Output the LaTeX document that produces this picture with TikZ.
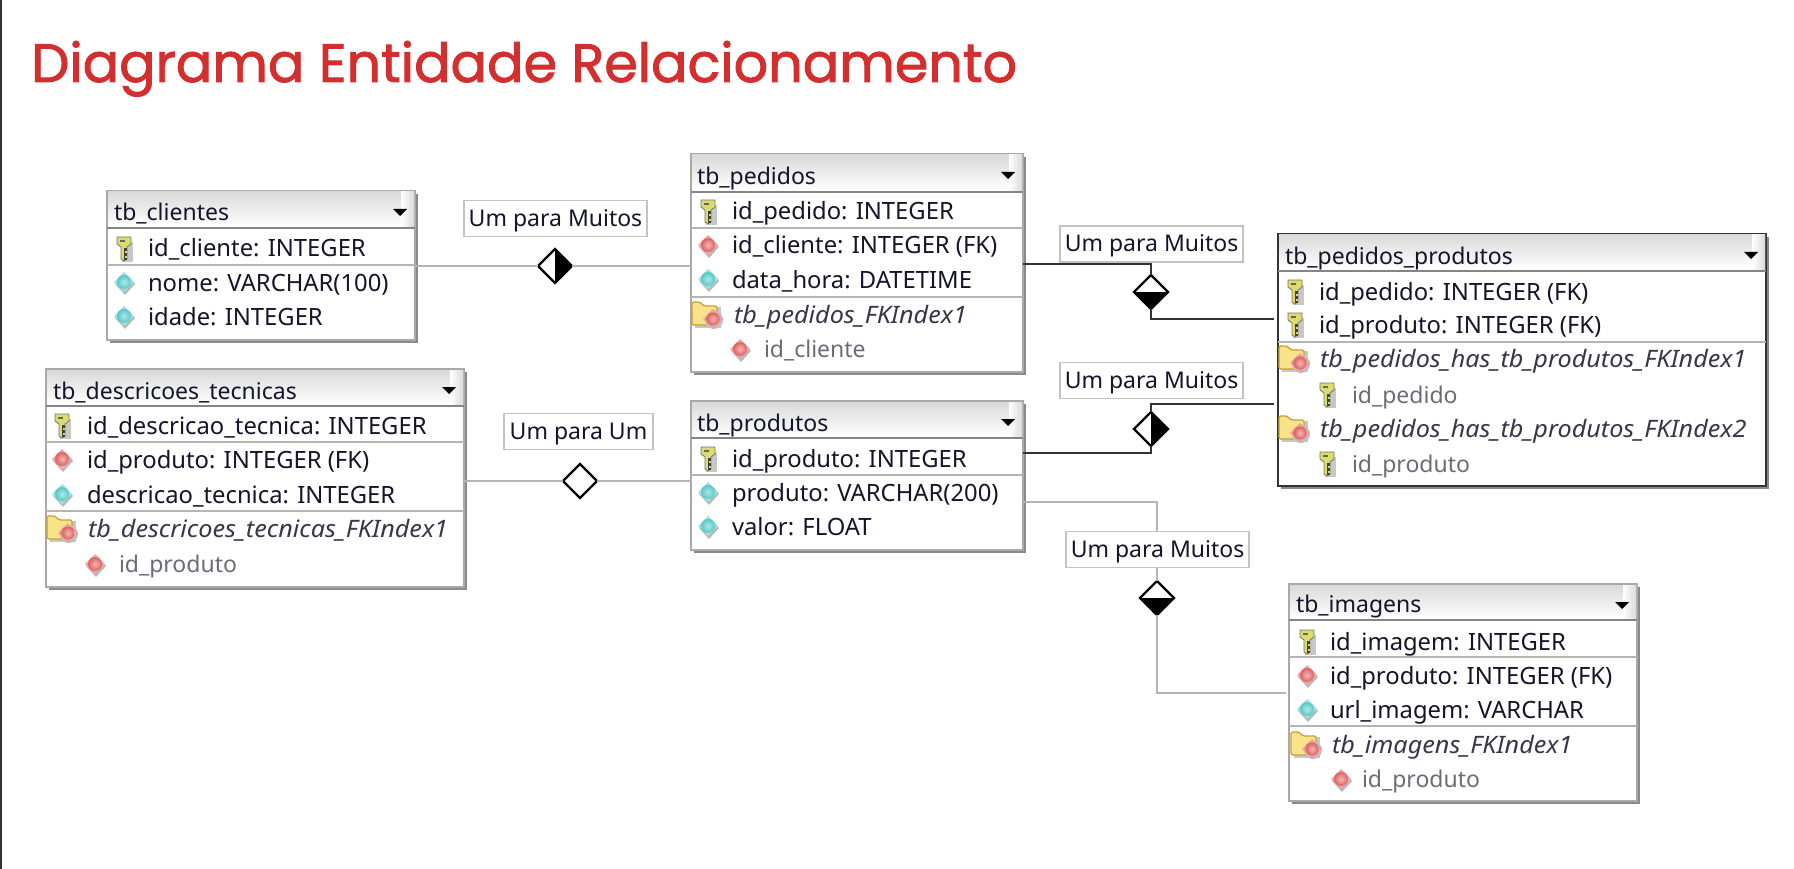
\documentclass[tikz,border=0pt]{standalone}
\usepackage{fontspec}
\usetikzlibrary{shapes.geometric,calc}
\setmainfont{Noto Sans}
\newfontfamily\titlefont[FakeBold=1.7]{Poppins}
\newfontfamily\idxfont[FakeStretch=1.05]{Noto Sans}
\definecolor{ink}{HTML}{14142A}
\definecolor{idxgray}{HTML}{6C6C78}
\definecolor{titlered}{HTML}{D32F2F}
\definecolor{bordergray}{HTML}{A9A9A9}
\definecolor{shadowgray}{HTML}{8A8A8A}
\definecolor{linegray}{HTML}{B4B4B4}
\definecolor{darkframe}{HTML}{333333}
\definecolor{hdr}{HTML}{DADADA}
\tikzset{
  x=1pt,y=-1pt,
  tblbox/.style={rectangle,draw=bordergray,line width=1.5,fill=white,anchor=north west,inner sep=0,outer sep=0},
  tbldark/.style={tblbox,draw=darkframe},
  ttl/.style={anchor=base west,inner sep=0,outer sep=0,text=ink,font=\fontsize{23}{27}\selectfont},
  fld/.style={ttl,font=\fontsize{23.8}{28}\selectfont},
  idx/.style={ttl,font=\idxfont\fontsize{24}{28}\selectfont\itshape,text=ink!85},
  sub/.style={ttl,text=idxgray},
  rel/.style={rectangle,draw=linegray!80,line width=1.3,fill=white,inner sep=0,outer sep=0,text=ink,text height=20,text depth=5,font=\fontsize{23}{27}\selectfont},
  conn/.style={draw=linegray,line width=1.5},
  connb/.style={draw=darkframe,line width=1.6},
  rowline/.style={draw=linegray,line width=1.4},
  dia/.style={diamond,draw=black,line width=2.4,fill=white,inner sep=0,outer sep=0,minimum width=34,minimum height=34,aspect=1},
  diaR/.style={dia,path picture={\fill[black] (path picture bounding box.north) rectangle (path picture bounding box.south east);}},
  diaB/.style={dia,path picture={\fill[black] (path picture bounding box.west) rectangle (path picture bounding box.south east);}},
}
% table frame: name, x, y, w, h, header bottom, style
\newcommand{\tblframe}[7]{%
  \fill[shadowgray] (#2+3,#3+3) rectangle (#2+#4+3,#3+#5+3);
  \node[#7,minimum width=#4,minimum height=#5] (#1) at (#2,#3) {};
  \shade[top color=hdr,bottom color=white] (#2+1,#3+1) rectangle (#2+#4-1,#6-1);
  \shade[left color=hdr!0,right color=hdr] (#2+#4-14,#3+1) rectangle (#2+#4-1,#6-1);
  \draw[#7,draw=darkframe!60] (#2,#6) -- (#2+#4,#6);
  \fill[black] (#2+#4-22,#3+18) -- (#2+#4-8,#3+18) -- (#2+#4-15,#3+25) -- cycle;
}
\definecolor{ballcyan}{HTML}{55C8C8}
\definecolor{ballred}{HTML}{E06060}
\definecolor{keyyellow}{HTML}{DCDC6C}
\definecolor{folderyellow}{HTML}{F8E28A}
\definecolor{folderedge}{HTML}{C8A030}
\newcommand{\ballicon}[3]{% x,y,color
  \fill[black!28] (#1+1,#2-9) -- (#1+11,#2+2) -- (#1+1,#2+13) -- (#1-9,#2+2) -- cycle;
  \fill[#3!55!white] (#1,#2-10) -- (#1+10,#2) -- (#1,#2+10) -- (#1-10,#2) -- cycle;
  \shade[inner color=#3!45!white,outer color=#3] (#1,#2) circle (7);
}
\newcommand{\keyicon}[2]{% x,y
  \fill[black!22] (#1-2,#2-6) rectangle (#1+9,#2+14);
  \fill[keyyellow,draw=black!55,line width=0.8] (#1-7,#2-11) -- (#1+7,#2-11) -- (#1+7,#2-4) -- (#1+3,#2-1) -- (#1+3,#2+11) -- (#1,#2+13) -- (#1-3,#2+11) -- (#1-3,#2-1) -- (#1-7,#2-4) -- cycle;
  \fill[black!75] (#1,#2) rectangle (#1+3,#2+12);
  \fill[keyyellow] (#1+1,#2+3) rectangle (#1+3,#2+5);
  \fill[keyyellow] (#1+1,#2+8) rectangle (#1+3,#2+10);
  \fill[black!60] (#1-4,#2-8) rectangle (#1+1,#2-6);
}
\newcommand{\foldericon}[2]{% x,y
  \fill[black!22] (#1-11,#2-8) rectangle (#1+15,#2+13);
  \fill[folderyellow,draw=folderedge,line width=1.3,rounded corners=1.5] (#1-14,#2-13) -- (#1-6,#2-13) -- (#1-2,#2-9) -- (#1+11,#2-9) -- (#1+11,#2+10) -- (#1-14,#2+10) -- cycle;
  \fill[black!25] (#1+8,#2+5) circle (9);
  \fill[ballred!60!white] (#1+7,#2-6) -- (#1+17,#2+4) -- (#1+7,#2+14) -- (#1-3,#2+4) -- cycle;
  \shade[inner color=ballred!45!white,outer color=ballred] (#1+7,#2+4) circle (6.5);
}
\begin{document}
\begin{tikzpicture}
\useasboundingbox (0,0) rectangle (1794,869);
\fill[white] (0,0) rectangle (1794,869);
\fill[darkframe] (0,0) rectangle (2,869);
\node[anchor=base west,inner sep=0,text=titlered,font=\titlefont\fontsize{54}{60}\selectfont] (heading) at (31,82) {Diagrama Entidade Relacionamento};

% tables
\tblframe{clientes}{107}{191}{308}{149}{228}{tblbox}
\tblframe{pedidos}{691}{154}{332}{218}{192}{tblbox}
\tblframe{pprod}{1278}{234}{488}{252}{271}{tbldark}
\tblframe{desc}{46}{369}{418}{218}{406}{tblbox}
\tblframe{produtos}{691}{401}{332}{149}{438}{tblbox}
\tblframe{imagens}{1289}{584}{348}{217}{620}{tblbox}
\draw[rowline] (107,265) -- (415,265);
\draw[rowline] (691,228) -- (1023,228) (691,297) -- (1023,297);
\draw[rowline] (1278,342) -- (1766,342);
\draw[rowline] (46,442) -- (464,442) (46,511) -- (464,511);
\draw[rowline] (691,475) -- (1023,475);
\draw[rowline] (1289,657) -- (1637,657) (1289,726) -- (1637,726);

% relationship diamonds
\node[diaR] (d1) at (555,266) {};
\node[diaB] (d2) at (1151,292) {};
\node[diaR] (d3) at (1151,429) {};
\node[diaB] (d4) at (1157,598) {};
\node[dia] (d5) at (580,481) {};
\coordinate (y2a) at (0,264);
\coordinate (y2b) at (0,319);
\coordinate (y3a) at (0,453);
\coordinate (y3b) at (0,404);
\coordinate (y4a) at (0,502);
\coordinate (y4b) at (0,693);

% connectors
\draw[conn] (clientes.east |- d1) -- (d1);
\draw[conn] (d1) -- (pedidos.west |- d1);
\draw[conn] (desc.east |- d5) -- (d5);
\draw[conn] (d5) -- (produtos.west |- d5);
\draw[connb] (pedidos.east |- y2a) -| (d2.north);
\draw[connb,shorten >=4] (d2.south) |- (pprod.west |- y2b);
\draw[connb] (produtos.east |- y3a) -| (d3.south);
\draw[connb,shorten >=4] (d3.north) |- (pprod.west |- y3b);
\draw[conn] (produtos.east |- y4a) -| (d4.north);
\draw[conn,shorten >=3] (d4.south) |- (imagens.west |- y4b);

% relationship labels
\node[rel,minimum width=183,minimum height=36] (l1) at (555.5,218.5) {Um para Muitos};
\node[rel,minimum width=183,minimum height=36] (l2) at (1151.5,244) {Um para Muitos};
\node[rel,minimum width=183,minimum height=36] (l3) at (1151.5,380.5) {Um para Muitos};
\node[rel,minimum width=183,minimum height=36] (l4) at (1157.5,549.5) {Um para Muitos};
\node[rel,minimum width=149,minimum height=36] (l5) at (578.5,431.5) {Um para Um};

% tb_clientes
\node[ttl] (c0) at (114,221) {tb\_clientes};
\keyicon{124}{248}\node[fld] (c1) at (148,257) {id\_cliente: INTEGER};
\ballicon{124}{282}{ballcyan}\node[fld] (c2) at (148,291) {nome: VARCHAR(100)};
\ballicon{124}{316}{ballcyan}\node[fld] (c3) at (148,325) {idade: INTEGER};

% tb_pedidos
\node[ttl] (p0) at (697,184.5) {tb\_pedidos};
\keyicon{708}{211}\node[fld] (p1) at (732,220) {id\_pedido: INTEGER};
\ballicon{708}{245}{ballred}\node[fld] (p2) at (732,254) {id\_cliente: INTEGER (FK)};
\ballicon{708}{279}{ballcyan}\node[fld] (p3) at (732,288) {data\_hora: DATETIME};
\foldericon{706}{315}\node[idx] (p4) at (734,323) {tb\_pedidos\_FKIndex1};
\ballicon{740}{349}{ballred}\node[sub] (p5) at (764,357) {id\_cliente};

% tb_pedidos_produtos
\node[ttl] (q0) at (1285,265) {tb\_pedidos\_produtos};
\keyicon{1295}{291}\node[fld] (q1) at (1319,300) {id\_pedido: INTEGER (FK)};
\keyicon{1295}{324}\node[fld] (q2) at (1319,333) {id\_produto: INTEGER (FK)};
\foldericon{1293}{359}\node[idx] (q3) at (1320,367) {tb\_pedidos\_has\_tb\_produtos\_FKIndex1};
\keyicon{1327}{394}\node[sub] (q4) at (1352,403) {id\_pedido};
\foldericon{1293}{429}\node[idx] (q5) at (1320,437) {tb\_pedidos\_has\_tb\_produtos\_FKIndex2};
\keyicon{1327}{463}\node[sub] (q6) at (1352,472) {id\_produto};

% tb_descricoes_tecnicas
\node[ttl] (e0) at (53,399) {tb\_descricoes\_tecnicas};
\keyicon{62}{425}\node[fld] (e1) at (87,434) {id\_descricao\_tecnica: INTEGER};
\ballicon{62}{459}{ballred}\node[fld] (e2) at (87,468) {id\_produto: INTEGER (FK)};
\ballicon{62}{494}{ballcyan}\node[fld] (e3) at (87,503) {descricao\_tecnica: INTEGER};
\foldericon{61}{529}\node[idx] (e4) at (88,537) {tb\_descricoes\_tecnicas\_FKIndex1};
\ballicon{95}{564}{ballred}\node[sub] (e5) at (119,572) {id\_produto};

% tb_produtos
\node[ttl] (r0) at (697,431.5) {tb\_produtos};
\keyicon{708}{458}\node[fld] (r1) at (732,467) {id\_produto: INTEGER};
\ballicon{708}{492}{ballcyan}\node[fld] (r2) at (732,501) {produto: VARCHAR(200)};
\ballicon{708}{526}{ballcyan}\node[fld] (r3) at (732,535) {valor: FLOAT};

% tb_imagens
\node[ttl] (i0) at (1296,612.5) {tb\_imagens};
\keyicon{1307}{641}\node[fld] (i1) at (1330,650) {id\_imagem: INTEGER};
\ballicon{1307}{675}{ballred}\node[fld] (i2) at (1330,684) {id\_produto: INTEGER (FK)};
\ballicon{1307}{709}{ballcyan}\node[fld] (i3) at (1330,718) {url\_imagem: VARCHAR};
\foldericon{1305}{745}\node[idx] (i4) at (1332,753) {tb\_imagens\_FKIndex1};
\ballicon{1341}{779}{ballred}\node[sub] (i5) at (1362,787) {id\_produto};
\end{tikzpicture}
\end{document}
